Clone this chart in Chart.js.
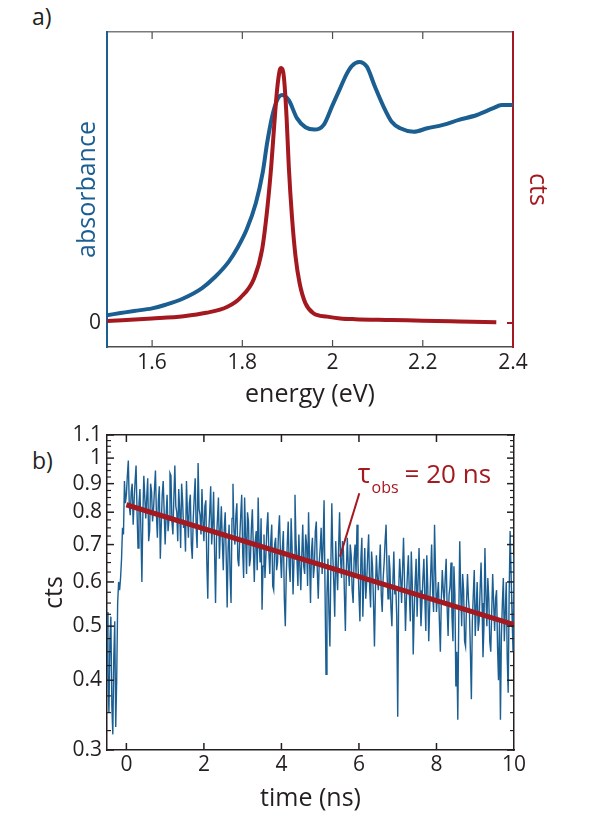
<!DOCTYPE html>
<html>
<head>
<meta charset="utf-8">
<script src="https://cdn.jsdelivr.net/npm/chart.js@4.4.0/dist/chart.umd.min.js"></script>
<style>
  body { margin: 0; background: #fff; width: 603px; height: 823px; position: relative; overflow: hidden; font-family: "Open Sans", sans-serif; }
  canvas { position: absolute; left: 0; }
  #absChart { top: 0; }
  #decayChart { top: 412px; }
  .panel { position: absolute; left: 32px; font-size: 23px; line-height: 24px; color: #231f20; }
</style>
</head>
<body>
<div class="panel" style="top:4px">a)</div>
<div class="panel" style="top:448px">b)</div>
<canvas id="absChart" width="603" height="412"></canvas>
<canvas id="decayChart" width="603" height="411"></canvas>
<script>
// panel a) absorbance + PL vs energy
const absEnergy = [1.50, 1.53, 1.56, 1.60, 1.63, 1.67, 1.71, 1.74, 1.77, 1.79, 1.81, 1.83, 1.845, 1.855, 1.866, 1.877, 1.888, 1.903, 1.921, 1.94, 1.96, 1.98, 2.0, 2.017, 2.03, 2.043, 2.059, 2.076, 2.094, 2.113, 2.131, 2.15, 2.18, 2.21, 2.245, 2.28, 2.32, 2.355, 2.375, 2.4];
const absValues = [0.030, 0.038, 0.046, 0.056, 0.070, 0.095, 0.133, 0.177, 0.235, 0.29, 0.36, 0.46, 0.575, 0.69, 0.79, 0.854, 0.874, 0.854, 0.785, 0.750, 0.741, 0.758, 0.835, 0.90, 0.95, 0.985, 1.0, 0.982, 0.905, 0.829, 0.771, 0.746, 0.733, 0.746, 0.759, 0.778, 0.797, 0.822, 0.835, 0.835];
const plEnergy = [1.50, 1.60, 1.67, 1.72, 1.767, 1.796, 1.826, 1.844, 1.855, 1.864, 1.871, 1.877, 1.883, 1.886, 1.892, 1.898, 1.903, 1.910, 1.918, 1.927, 1.940, 1.958, 1.988, 2.017, 2.05, 2.13, 2.2, 2.28, 2.363];
const plValues = [0.008, 0.018, 0.027, 0.04, 0.064, 0.10, 0.175, 0.29, 0.443, 0.613, 0.783, 0.914, 0.992, 1.0, 0.966, 0.809, 0.613, 0.417, 0.26, 0.156, 0.077, 0.038, 0.025, 0.018, 0.015, 0.012, 0.009, 0.006, 0.003];
const energyTicks = [1.6, 1.8, 2.0, 2.2, 2.4];

// panel b) PL decay, sampled every 0.025 ns from -0.5 ns (one row per ns)
const timeStart = -0.5;
const timeStep = 0.025;
const decayCounts = [
  0.53, 0.41, 0.35, 0.47, 0.52, 0.36, 0.32, 0.44, 0.51, 0.33, 0.40, 0.55, 0.60, 0.58, 0.61, 0.66, 0.75, 0.73, 0.91, 0.83, 0.86, 0.93, 0.99, 0.82, 0.79, 0.87, 0.90, 0.76, 0.84, 0.91, 0.97, 0.80, 0.69, 0.83, 0.88, 0.74, 0.60, 0.79, 0.93, 0.85,
  0.78, 0.85, 0.92, 0.71, 0.74, 0.90, 0.87, 0.77, 0.81, 0.88, 0.95, 0.79, 0.72, 0.84, 0.89, 0.66, 0.76, 0.86, 0.91, 0.80, 0.70, 0.79, 0.86, 0.74, 0.78, 0.94, 0.93, 0.77, 0.73, 0.85, 0.97, 0.82, 0.80, 0.71, 0.88, 0.81, 0.69, 0.90, 0.84, 0.75,
  0.77, 0.68, 0.91, 0.80, 0.72, 0.83, 0.86, 0.70, 0.66, 0.78, 0.85, 0.92, 0.75, 0.69, 0.98, 0.81, 0.79, 0.73, 0.88, 0.77, 0.71, 0.82, 0.84, 0.65, 0.56, 0.74, 0.80, 0.89, 0.70, 0.76, 0.87, 0.68, 0.55, 0.72, 0.78, 0.85, 0.66, 0.74, 0.82, 0.71,
  0.63, 0.75, 0.80, 0.67, 0.54, 0.69, 0.76, 0.62, 0.55, 0.78, 0.90, 0.74, 0.70, 0.79, 0.83, 0.66, 0.64, 0.72, 0.79, 0.86, 0.68, 0.61, 0.85, 0.73, 0.62, 0.80, 0.77, 0.64, 0.66, 0.75, 0.81, 0.69, 0.60, 0.71, 0.74, 0.63, 0.85, 0.70, 0.65, 0.78,
  0.535, 0.64, 0.73, 0.61, 0.67, 0.75, 0.80, 0.68, 0.62, 0.71, 0.76, 0.59, 0.58, 0.70, 0.72, 0.63, 0.65, 0.74, 0.79, 0.67, 0.61, 0.69, 0.74, 0.56, 0.50, 0.62, 0.70, 0.77, 0.64, 0.60, 0.78, 0.69, 0.57, 0.66, 0.86, 0.71, 0.66, 0.59, 0.73, 0.64,
  0.58, 0.67, 0.76, 0.64, 0.62, 0.73, 0.70, 0.59, 0.80, 0.66, 0.55, 0.68, 0.72, 0.61, 0.64, 0.74, 0.77, 0.63, 0.56, 0.65, 0.69, 0.75, 0.62, 0.70, 0.84, 0.58, 0.41, 0.57, 0.66, 0.53, 0.46, 0.64, 0.83, 0.67, 0.60, 0.52, 0.71, 0.63, 0.58, 0.69,
  0.80, 0.66, 0.61, 0.71, 0.68, 0.57, 0.49, 0.63, 0.72, 0.64, 0.59, 0.70, 0.67, 0.58, 0.55, 0.66, 0.70, 0.62, 0.76, 0.65, 0.57, 0.51, 0.66, 0.72, 0.52, 0.61, 0.69, 0.56, 0.60, 0.67, 0.73, 0.59, 0.54, 0.68, 0.64, 0.55, 0.46, 0.58, 0.67, 0.61,
  0.58, 0.64, 0.70, 0.57, 0.53, 0.61, 0.65, 0.71, 0.76, 0.62, 0.56, 0.67, 0.63, 0.54, 0.50, 0.60, 0.68, 0.57, 0.59, 0.52, 0.344, 0.58, 0.66, 0.61, 0.55, 0.63, 0.72, 0.60, 0.49, 0.56, 0.62, 0.67, 0.57, 0.51, 0.68, 0.60, 0.445, 0.53, 0.60, 0.66,
  0.52, 0.60, 0.69, 0.58, 0.50, 0.55, 0.61, 0.66, 0.56, 0.49, 0.67, 0.59, 0.47, 0.54, 0.62, 0.70, 0.58, 0.53, 0.76, 0.63, 0.53, 0.57, 0.60, 0.51, 0.45, 0.56, 0.63, 0.58, 0.55, 0.61, 0.66, 0.54, 0.48, 0.57, 0.59, 0.65, 0.52, 0.47, 0.64, 0.57,
  0.39, 0.45, 0.34, 0.52, 0.71, 0.58, 0.50, 0.62, 0.58, 0.47, 0.46, 0.55, 0.62, 0.56, 0.53, 0.45, 0.37, 0.51, 0.57, 0.63, 0.48, 0.54, 0.60, 0.49, 0.51, 0.58, 0.65, 0.55, 0.44, 0.50, 0.69, 0.57, 0.50, 0.61, 0.56, 0.47, 0.45, 0.53, 0.62, 0.55,
  0.49, 0.56, 0.58, 0.46, 0.40, 0.51, 0.34, 0.48, 0.55, 0.61, 0.47, 0.53, 0.60, 0.44, 0.38, 0.57, 0.74, 0.62, 0.52, 0.45, 0.67
];
const fitTimes = [0, 10];
const fitCounts = [0.825, 0.503];
const timeTicks = [0, 2, 4, 6, 8, 10];
const ctsTicks = [0.3, 0.4, 0.5, 0.6, 0.7, 0.8, 0.9, 1, 1.1];

const BLUE = '#1b5e92';
const RED = '#a3191f';
const TXT = '#231f20';
const FONT = '"Open Sans", sans-serif';

// minor ticks every 0.025 between the labelled ones
const ctsMinor = [];
for (let i = 0; i < ctsTicks.length - 1; i++) {
  for (let k = 1; k < 4; k++) ctsMinor.push(ctsTicks[i] + k * (ctsTicks[i + 1] - ctsTicks[i]) / 4);
}

// ticks pointing into the plot, like the original figure
const innerTicks = {
  id: 'innerTicks',
  afterDraw(chart, args, opts) {
    const { ctx, chartArea: area } = chart;
    ctx.save();
    opts.marks.forEach(m => {
      const scale = chart.scales[m.scale];
      ctx.strokeStyle = m.color;
      ctx.lineWidth = m.width;
      m.values.forEach(v => {
        const p = scale.getPixelForValue(v);
        ctx.beginPath();
        if (m.side === 'bottom') { ctx.moveTo(p, area.bottom); ctx.lineTo(p, area.bottom - m.len); }
        if (m.side === 'top') { ctx.moveTo(p, area.top); ctx.lineTo(p, area.top + m.len); }
        if (m.side === 'left') { ctx.moveTo(area.left, p); ctx.lineTo(area.left + m.len, p); }
        if (m.side === 'right') { ctx.moveTo(area.right, p); ctx.lineTo(area.right - m.len, p); }
        ctx.stroke();
      });
    });
    ctx.restore();
  }
};

// tau label with leader line (panel b)
const tauLabel = {
  id: 'tauLabel',
  afterDatasetsDraw(chart) {
    const { ctx, scales: { x, y } } = chart;
    ctx.save();
    ctx.strokeStyle = RED;
    ctx.lineWidth = 2;
    ctx.beginPath();
    ctx.moveTo(x.getPixelForValue(6.01), y.getPixelForValue(0.865));
    ctx.lineTo(x.getPixelForValue(5.51), y.getPixelForValue(0.666));
    ctx.stroke();

    let tx = x.getPixelForValue(5.97);
    const ty = y.getPixelForValue(0.902);
    ctx.fillStyle = RED;
    ctx.textBaseline = 'alphabetic';
    ctx.font = '27px ' + FONT;
    ctx.fillText('τ', tx, ty);
    tx += ctx.measureText('τ').width + 1;
    ctx.font = '16px ' + FONT;
    ctx.fillText('obs', tx, ty + 10);
    tx += ctx.measureText('obs').width + 6;
    ctx.font = '26px ' + FONT;
    ctx.fillText('= 20 ns', tx, ty);
    ctx.restore();
  }
};

Chart.defaults.font.family = FONT;
Chart.defaults.color = TXT;

new Chart(document.getElementById('absChart'), {
  type: 'line',
  data: {
    datasets: [
      {
        label: 'PL',
        data: plEnergy.map((e, i) => ({ x: e, y: plValues[i] })),
        yAxisID: 'y2',
        borderColor: RED,
        borderWidth: 4,
        pointRadius: 0,
        cubicInterpolationMode: 'monotone',
        order: 0
      },
      {
        label: 'absorbance',
        data: absEnergy.map((e, i) => ({ x: e, y: absValues[i] })),
        yAxisID: 'y',
        borderColor: BLUE,
        borderWidth: 4,
        pointRadius: 0,
        cubicInterpolationMode: 'monotone',
        order: 1
      }
    ]
  },
  options: {
    responsive: false,
    animation: false,
    devicePixelRatio: 1,
    layout: { padding: 0 },
    plugins: {
      legend: { display: false },
      tooltip: { enabled: false },
      innerTicks: {
        marks: [
          { scale: 'x', side: 'bottom', values: energyTicks.slice(0, 4), len: 7, color: '#4d4d4d', width: 1.2 },
          { scale: 'x', side: 'top', values: energyTicks.slice(0, 4), len: 7, color: '#4d4d4d', width: 1.2 },
          { scale: 'y2', side: 'right', values: [0], len: 6, color: RED, width: 2 }
        ]
      }
    },
    scales: {
      x: {
        type: 'linear', position: 'bottom', min: 1.5, max: 2.4,
        afterBuildTicks: s => { s.ticks = energyTicks.map(v => ({ value: v })); },
        afterFit: s => { s.height = 65; },
        grid: { display: false, drawTicks: false },
        border: { color: '#4d4d4d', width: 1.5 },
        ticks: { padding: 3, color: TXT, font: { size: 21 }, maxRotation: 0, callback: v => String(v) },
        title: { display: true, text: 'energy (eV)', color: TXT, font: { size: 25 }, padding: { top: 0, bottom: 2 } }
      },
      xTop: {
        type: 'linear', position: 'top', min: 1.5, max: 2.4,
        afterFit: s => { s.height = 32; },
        grid: { display: false, drawTicks: false },
        border: { color: '#7a7a7a', width: 1.5 },
        ticks: { display: false }
      },
      y: {
        type: 'linear', position: 'left', min: -0.092, max: 1.115,
        afterBuildTicks: s => { s.ticks = [{ value: 0 }]; },
        afterFit: s => { s.width = 107; },
        grid: { display: false, drawTicks: false },
        border: { color: BLUE, width: 2 },
        ticks: { padding: 6, color: TXT, font: { size: 21 }, callback: v => String(v) },
        title: { display: true, text: 'absorbance', color: BLUE, font: { size: 25 }, padding: { top: 73, bottom: 0 } }
      },
      y2: {
        type: 'linear', position: 'right', min: -0.094, max: 1.141,
        afterFit: s => { s.width = 90; },
        grid: { display: false, drawTicks: false },
        border: { color: RED, width: 2 },
        ticks: { display: false },
        title: { display: true, text: 'cts', color: RED, font: { size: 25 }, padding: { top: 51, bottom: 0 } }
      }
    }
  },
  plugins: [innerTicks]
});

const decayTimes = decayCounts.map((_, i) => +(timeStart + i * timeStep).toFixed(3));

new Chart(document.getElementById('decayChart'), {
  type: 'line',
  data: {
    datasets: [
      {
        label: 'fit',
        data: fitTimes.map((t, i) => ({ x: t, y: fitCounts[i] })),
        borderColor: RED,
        borderWidth: 5,
        pointRadius: 0,
        order: 0
      },
      {
        label: 'decay',
        data: decayTimes.map((t, i) => ({ x: t, y: decayCounts[i] })),
        borderColor: BLUE,
        borderWidth: 1.4,
        pointRadius: 0,
        order: 1
      }
    ]
  },
  options: {
    responsive: false,
    animation: false,
    devicePixelRatio: 1,
    layout: { padding: 0 },
    plugins: {
      legend: { display: false },
      tooltip: { enabled: false },
      innerTicks: {
        marks: [
          { scale: 'x', side: 'bottom', values: timeTicks.slice(0, 5), len: 7, color: TXT, width: 1.5 },
          { scale: 'x', side: 'top', values: timeTicks.slice(0, 5), len: 7, color: TXT, width: 1.5 },
          { scale: 'y', side: 'left', values: ctsTicks, len: 7, color: TXT, width: 1.5 },
          { scale: 'y', side: 'left', values: ctsMinor, len: 4, color: TXT, width: 1.2 },
          { scale: 'y', side: 'right', values: ctsTicks, len: 7, color: TXT, width: 1.5 },
          { scale: 'y', side: 'right', values: ctsMinor, len: 4, color: TXT, width: 1.2 }
        ]
      }
    },
    scales: {
      x: {
        type: 'linear', position: 'bottom', min: -0.5, max: 10,
        afterBuildTicks: s => { s.ticks = timeTicks.map(v => ({ value: v })); },
        afterFit: s => { s.height = 73; },
        grid: { display: false, drawTicks: false },
        border: { color: TXT, width: 1.5 },
        ticks: { padding: 2, color: TXT, font: { size: 21 }, maxRotation: 0, callback: v => String(v) },
        title: { display: true, text: 'time (ns)', color: TXT, font: { size: 25 }, padding: { top: 0, bottom: 9 } }
      },
      xTop: {
        type: 'linear', position: 'top', min: -0.5, max: 10,
        afterFit: s => { s.height = 23; },
        grid: { display: false, drawTicks: false },
        border: { color: TXT, width: 1.5 },
        ticks: { display: false }
      },
      y: {
        type: 'logarithmic', position: 'left', min: 0.3, max: 1.1,
        afterBuildTicks: s => { s.ticks = ctsTicks.map(v => ({ value: v })); },
        afterFit: s => { s.width = 107; },
        grid: { display: false, drawTicks: false },
        border: { color: TXT, width: 1.5 },
        ticks: { padding: 5, color: TXT, font: { size: 21 }, callback: v => String(v) },
        title: { display: true, text: 'cts', color: TXT, font: { size: 25 }, padding: { top: 40, bottom: 0 } }
      },
      y2: {
        type: 'logarithmic', position: 'right', min: 0.3, max: 1.1,
        afterFit: s => { s.width = 89; },
        grid: { display: false, drawTicks: false },
        border: { color: TXT, width: 1.5 },
        ticks: { display: false }
      }
    }
  },
  plugins: [innerTicks, tauLabel]
});
</script>
</body>
</html>
